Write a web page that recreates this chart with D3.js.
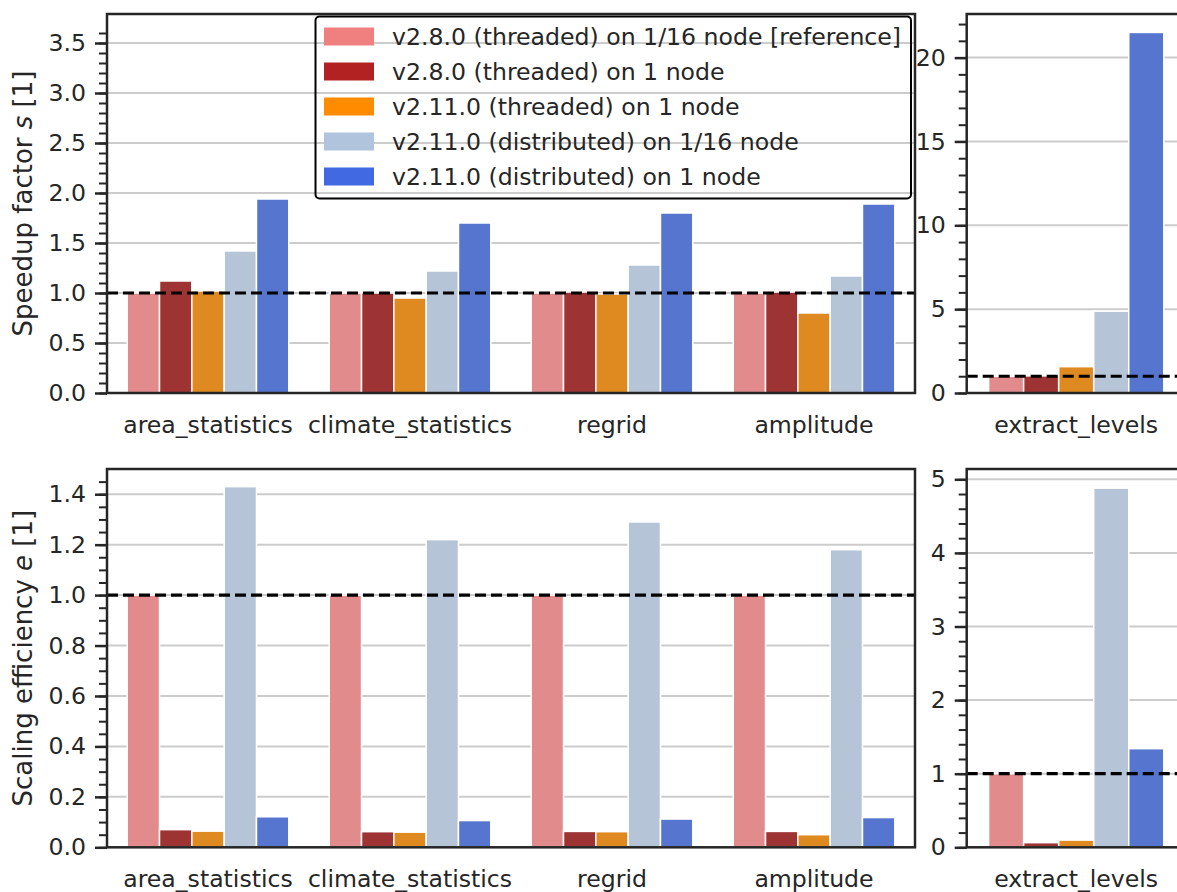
<!DOCTYPE html>
<html>
<head>
<meta charset="utf-8">
<script src="https://cdn.jsdelivr.net/npm/d3@7"></script>
<style>
  body { margin: 0; background: #fff; }
  text { font-family: "DejaVu Sans", sans-serif; }
</style>
</head>
<body>
<div id="chart"></div>
<script>
//chart data
const categories = ["area_statistics", "climate_statistics", "regrid", "amplitude"];
const extraCategories = ["extract_levels"];
const seriesNames = [
  "v2.8.0 (threaded) on 1/16 node [reference]",
  "v2.8.0 (threaded) on 1 node",
  "v2.11.0 (threaded) on 1 node",
  "v2.11.0 (distributed) on 1/16 node",
  "v2.11.0 (distributed) on 1 node"
];
const legendColors = ["#f08080", "#b22222", "#ff8c00", "#b0c4de", "#4169e1"];
const barColors = ["#e18b8d", "#9e3334", "#df8a21", "#b6c4d7", "#5575cf"];

//speedup, one row per series, one value per category
const speedup = [
  [1.0, 1.0, 1.0, 1.0],
  [1.12, 1.0, 1.01, 1.01],
  [1.02, 0.95, 0.99, 0.80],
  [1.42, 1.22, 1.28, 1.17],
  [1.94, 1.70, 1.80, 1.89]
];
const speedupExtract = [1.0, 1.02, 1.57, 4.88, 21.5];

//scaling efficiency
const efficiency = [
  [1.0, 1.0, 1.0, 1.0],
  [0.07, 0.062, 0.063, 0.063],
  [0.064, 0.06, 0.062, 0.05],
  [1.43, 1.22, 1.29, 1.18],
  [0.121, 0.106, 0.112, 0.118]
];
const efficiencyExtract = [1.0, 0.063, 0.098, 4.88, 1.34];

//tick labels
const speedupTicks = [0, 0.5, 1.0, 1.5, 2.0, 2.5, 3.0, 3.5];
const speedupExtractTicks = [0, 5, 10, 15, 20];
const efficiencyTicks = [0, 0.2, 0.4, 0.6, 0.8, 1.0, 1.2, 1.4];
const efficiencyExtractTicks = [0, 1, 2, 3, 4, 5];

const W = 1177, H = 892;
const ink = "#262626";
const fontSize = "23.6px";
const svg = d3.select("#chart").append("svg")
  .attr("width", W)
  .attr("height", H);

//drawing one panel
const drawPanel = function(opt){
  const g = svg.append("g");
  const x = d3.scaleBand()
    .domain(opt.cats)
    .range([opt.x0, opt.x1])
    .paddingInner(0.2)
    .paddingOuter(0.1);
  const xs = d3.scaleBand()
    .domain(d3.range(seriesNames.length))
    .range([0, x.bandwidth()]);
  const y = d3.scaleLinear()
    .domain([0, opt.ymax])
    .range([opt.y1, opt.y0]);

  //grid
  g.append("g").selectAll("line")
    .data(opt.major)
    .join("line")
    .attr("x1", opt.x0).attr("x2", opt.x1)
    .attr("y1", d => y(d)).attr("y2", d => y(d))
    .attr("stroke", "#cccccc")
    .attr("stroke-width", 2);

  //bars
  const rows = [];
  opt.values.forEach((row, i) => {
    opt.cats.forEach((c, j) => rows.push({ s: i, cat: c, v: Array.isArray(row) ? row[j] : row }));
  });
  g.append("g").selectAll("rect")
    .data(rows)
    .join("rect")
    .attr("x", d => x(d.cat) + xs(d.s))
    .attr("y", d => y(d.v))
    .attr("width", xs.bandwidth())
    .attr("height", d => y(0) - y(d.v))
    .attr("fill", d => barColors[d.s])
    .attr("stroke", "#ffffff")
    .attr("stroke-width", 1.5);

  //reference line
  g.append("line")
    .attr("x1", opt.x0).attr("x2", opt.x1)
    .attr("y1", y(1)).attr("y2", y(1))
    .attr("stroke", "#000")
    .attr("stroke-width", 3.2)
    .attr("stroke-dasharray", "11,5");

  //frame
  g.append("rect")
    .attr("x", opt.x0).attr("y", opt.y0)
    .attr("width", opt.x1 - opt.x0).attr("height", opt.y1 - opt.y0)
    .attr("fill", "none")
    .attr("stroke", ink)
    .attr("stroke-width", 2.5);

  //minor y ticks
  const minorAxis = g.append("g")
    .attr("transform", `translate(${opt.x0},0)`)
    .call(d3.axisLeft(y).tickValues(opt.minor).tickSize(8).tickFormat(""));
  minorAxis.select(".domain").remove();
  minorAxis.selectAll(".tick line").attr("stroke", ink).attr("stroke-width", 2);

  //major y ticks
  const yAxis = g.append("g")
    .attr("transform", `translate(${opt.x0},0)`)
    .call(d3.axisLeft(y).tickValues(opt.major).tickSize(12).tickPadding(9).tickFormat(opt.fmt));
  yAxis.select(".domain").remove();
  yAxis.selectAll(".tick line").attr("stroke", ink).attr("stroke-width", 2.5);
  yAxis.selectAll(".tick text")
    .attr("fill", ink)
    .style("font", `${fontSize} "DejaVu Sans"`);

  //x labels
  const xAxis = g.append("g")
    .attr("transform", `translate(0,${opt.y1})`)
    .call(d3.axisBottom(x).tickSize(0).tickPadding(23));
  xAxis.select(".domain").remove();
  xAxis.selectAll(".tick text")
    .attr("fill", ink)
    .style("font", `${fontSize} "DejaVu Sans"`);

  //y label
  if(opt.label){
    const t = g.append("text")
      .attr("transform", `translate(32,${(opt.y0 + opt.y1) / 2}) rotate(-90)`)
      .attr("text-anchor", "middle")
      .attr("fill", ink)
      .style("font-size", "26px");
    t.append("tspan").text(opt.label[0]);
    t.append("tspan").style("font-style", "italic").text(opt.label[1]);
    t.append("tspan").text(opt.label[2]);
  }
};

drawPanel({
  cats: categories, values: speedup,
  x0: 107, x1: 915, y0: 14, y1: 393, ymax: 3.79,
  major: speedupTicks, minor: d3.range(0, 37).map(d => d / 10),
  fmt: d3.format(".1f"), label: ["Speedup factor ", "s", " [1]"]
});
drawPanel({
  cats: extraCategories, values: speedupExtract,
  x0: 966.7, x1: 1185.7, y0: 14, y1: 393, ymax: 22.6,
  major: speedupExtractTicks, minor: d3.range(0, 23),
  fmt: d3.format("d")
});
drawPanel({
  cats: categories, values: efficiency,
  x0: 107, x1: 915, y0: 469, y1: 847.3, ymax: 1.5,
  major: efficiencyTicks, minor: d3.range(0, 30).map(d => d / 20),
  fmt: d3.format(".1f"), label: ["Scaling efficiency ", "e", " [1]"]
});
drawPanel({
  cats: extraCategories, values: efficiencyExtract,
  x0: 966.7, x1: 1185.7, y0: 469, y1: 847.3, ymax: 5.14,
  major: efficiencyExtractTicks, minor: d3.range(0, 26).map(d => d / 5),
  fmt: d3.format("d")
});

//legend
const legend = svg.append("g");
legend.append("rect")
  .attr("x", 315.5).attr("y", 16.5)
  .attr("width", 595.5).attr("height", 182)
  .attr("rx", 4)
  .attr("fill", "none")
  .attr("stroke", "#000")
  .attr("stroke-width", 2);
const items = legend.selectAll(".item")
  .data(seriesNames)
  .join("g")
  .attr("class", "item")
  .attr("transform", (d, i) => `translate(0,${36.5 + i * 35})`);
items.append("rect")
  .attr("x", 324).attr("y", -9)
  .attr("width", 50).attr("height", 18)
  .attr("fill", (d, i) => legendColors[i]);
items.append("text")
  .attr("x", 392)
  .attr("dy", "0.36em")
  .attr("fill", ink)
  .style("font-size", fontSize)
  .text(d => d);
</script>
</body>
</html>
